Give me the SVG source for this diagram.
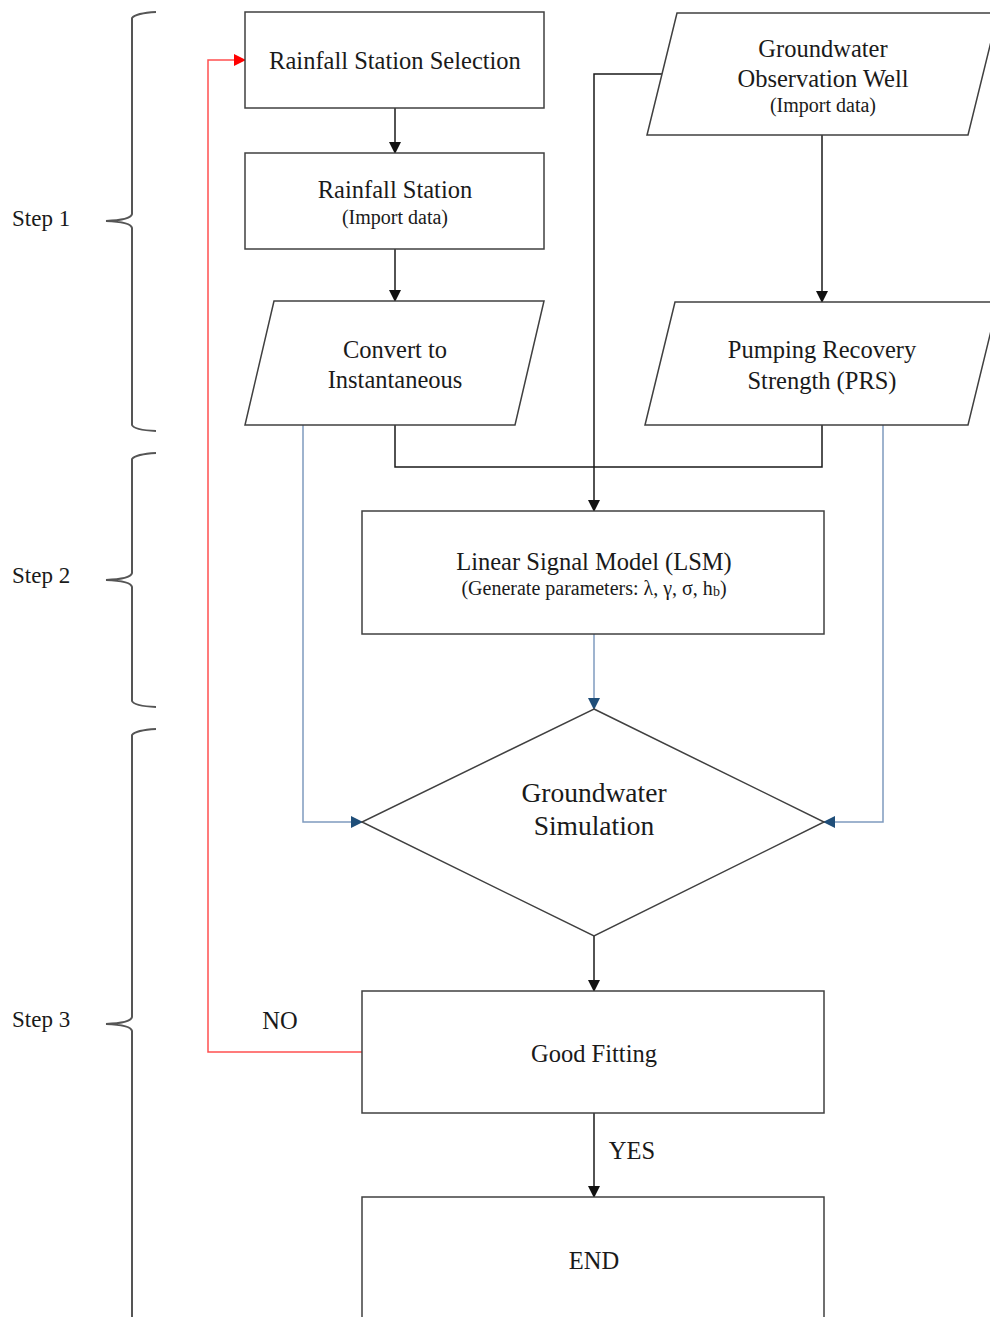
<svg xmlns="http://www.w3.org/2000/svg" width="990" height="1317" viewBox="0 0 990 1317">
  <style>
    .box { fill: #ffffff; stroke: #404040; stroke-width: 1.5; }
    .t { font-family: "Liberation Serif", "Times New Roman", serif; fill: #1a1a1a; text-anchor: middle; }
    .big { font-size: 24.5px; }
    .small { font-size: 20px; }
    .step { font-family: "Liberation Serif", "Times New Roman", serif; font-size: 23px; fill: #1a1a1a; }
    .brace { fill: none; stroke: #555555; stroke-width: 2; }
    .blk { fill: none; stroke: #1a1a1a; stroke-width: 1.5; }
    .blu { fill: none; stroke: #7f9bbf; stroke-width: 1.5; }
    .red { fill: none; stroke: #ff5050; stroke-width: 1.5; }
  </style>
  <defs>
    <marker id="ah-black" markerWidth="12" markerHeight="12" refX="11" refY="6" orient="auto" markerUnits="userSpaceOnUse">
      <path d="M0,0 L12,6 L0,12 Z" fill="#111111"/>
    </marker>
    <marker id="ah-blue" markerWidth="12" markerHeight="12" refX="11" refY="6" orient="auto" markerUnits="userSpaceOnUse">
      <path d="M0,0 L12,6 L0,12 Z" fill="#1f4e79"/>
    </marker>
    <marker id="ah-red" markerWidth="12" markerHeight="12" refX="11" refY="6" orient="auto" markerUnits="userSpaceOnUse">
      <path d="M0,0 L12,6 L0,12 Z" fill="#ff0000"/>
    </marker>
  </defs>
  <rect width="990" height="1317" fill="#ffffff"/>

  <!-- step braces -->
  <g id="step1">
    <path class="brace" d="M156,12 Q136,13 132,18 L132,214 Q131,220 106,221 Q131,222 132,228 L132,425 Q134,430 156,431"/>
    <text class="step" x="12" y="226">Step 1</text>
  </g>
  <g id="step2">
    <path class="brace" d="M156,453 Q136,454 132,459 L132,573 Q131,579 106,580 Q131,581 132,587 L132,701 Q134,706 156,707"/>
    <text class="step" x="12" y="583">Step 2</text>
  </g>
  <g id="step3">
    <path class="brace" d="M156,729 Q136,730 132,735 L132,1017 Q131,1023 106,1024 Q131,1025 132,1031 L132,1320"/>
    <text class="step" x="12" y="1027">Step 3</text>
  </g>

  <!-- connectors -->
  <g id="connectors">
    <line class="blk" x1="395" y1="108" x2="395" y2="153" marker-end="url(#ah-black)"/>
    <line class="blk" x1="395" y1="249" x2="395" y2="301" marker-end="url(#ah-black)"/>
    <line class="blk" x1="822" y1="135" x2="822" y2="302" marker-end="url(#ah-black)"/>
    <polyline class="blk" points="662,74 594,74 594,511" marker-end="url(#ah-black)"/>
    <polyline class="blk" points="822,425 822,467 395,467 395,425"/>
    <polyline class="blu" points="303,425 303,822 362,822" marker-end="url(#ah-blue)"/>
    <polyline class="blu" points="883,425 883,822 824,822" marker-end="url(#ah-blue)"/>
    <line class="blu" x1="594" y1="634" x2="594" y2="709" marker-end="url(#ah-blue)"/>
    <line class="blk" x1="594" y1="936" x2="594" y2="991" marker-end="url(#ah-black)"/>
    <line class="blk" x1="594" y1="1113" x2="594" y2="1197" marker-end="url(#ah-black)"/>
    <polyline class="red" points="362,1052 208,1052 208,60 245,60" marker-end="url(#ah-red)"/>
    <text class="t big" x="280" y="1029">NO</text>
    <text class="t big" x="632" y="1159">YES</text>
  </g>

  <!-- nodes -->
  <g id="rainfall-station-selection">
    <rect class="box" x="245" y="12" width="299" height="96"/>
    <text class="t big" x="395" y="69">Rainfall Station Selection</text>
  </g>
  <g id="rainfall-station">
    <rect class="box" x="245" y="153" width="299" height="96"/>
    <text class="t big" x="395" y="198">Rainfall Station</text>
    <text class="t small" x="395" y="224">(Import data)</text>
  </g>
  <g id="convert-instantaneous">
    <polygon class="box" points="274,301 544,301 515,425 245,425"/>
    <text class="t big" x="395" y="358">Convert to</text>
    <text class="t big" x="395" y="388">Instantaneous</text>
  </g>
  <g id="groundwater-well">
    <polygon class="box" points="677,13 998,13 968,135 647,135"/>
    <text class="t big" x="823" y="57">Groundwater</text>
    <text class="t big" x="823" y="87">Observation Well</text>
    <text class="t small" x="823" y="112">(Import data)</text>
  </g>
  <g id="prs">
    <polygon class="box" points="675,302 998,302 968,425 645,425"/>
    <text class="t big" x="822" y="358">Pumping Recovery</text>
    <text class="t big" x="822" y="389">Strength (PRS)</text>
  </g>
  <g id="lsm">
    <rect class="box" x="362" y="511" width="462" height="123"/>
    <text class="t big" x="594" y="570">Linear Signal Model (LSM)</text>
    <text class="t small" x="594" y="595">(Generate parameters: λ, γ, σ, h<tspan font-size="14" dy="1">b</tspan><tspan dy="-1">)</tspan></text>
  </g>
  <g id="groundwater-simulation">
    <polygon class="box" points="594,709 824,822 594,936 362,822"/>
    <text class="t" font-size="27.5" x="594" y="802">Groundwater</text>
    <text class="t" font-size="27.5" x="594" y="835">Simulation</text>
  </g>
  <g id="good-fitting">
    <rect class="box" x="362" y="991" width="462" height="122"/>
    <text class="t big" x="594" y="1062">Good Fitting</text>
  </g>
  <g id="end">
    <path class="box" d="M362,1320 L362,1197 L824,1197 L824,1320"/>
    <text class="t big" x="594" y="1269">END</text>
  </g>
</svg>
